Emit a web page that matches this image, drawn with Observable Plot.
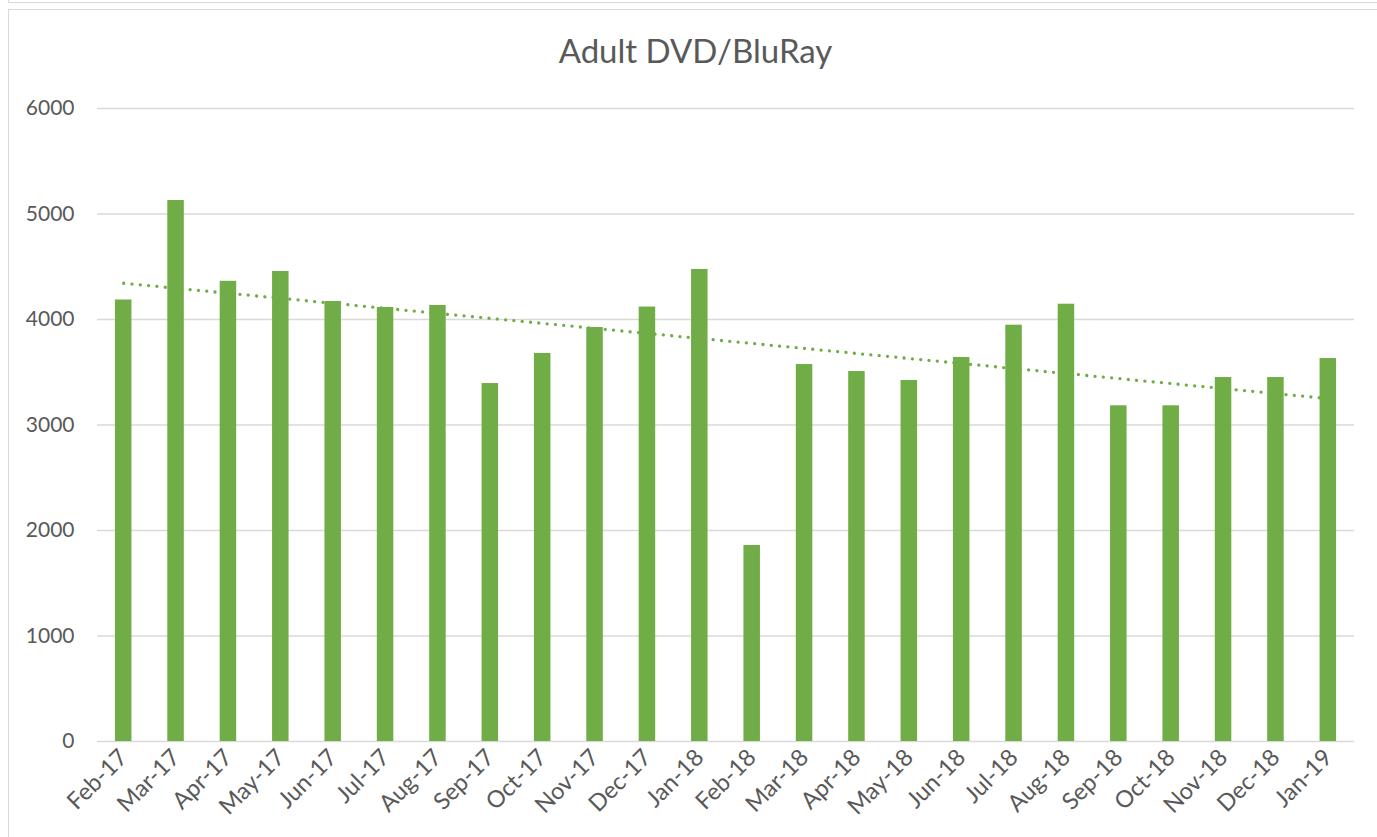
<!DOCTYPE html>
<html>
<head>
<meta charset="utf-8">
<script src="https://cdn.jsdelivr.net/npm/d3@7"></script>
<script src="https://cdn.jsdelivr.net/npm/@observablehq/plot@0.6"></script>
<style>
  html, body { margin: 0; padding: 0; background: #fff; }
  #wrap { position: relative; width: 1377px; height: 837px; overflow: hidden; font-family: Lato, "Open Sans", sans-serif; }
  .frame-prev { position: absolute; left: 8px; top: -10px; width: 1400px; height: 11.5px; border-left: 1.5px solid #d9d9d9; border-bottom: 1.5px solid #d9d9d9; }
  .frame { position: absolute; left: 8px; top: 9px; width: 1400px; height: 900px; border-left: 1.5px solid #d9d9d9; border-top: 1.5px solid #d9d9d9; }
  #title { position: absolute; left: 0; top: 34px; width: 1391px; text-align: center; font-size: 33px; line-height: 33px; color: #595959; }
  #chart { position: absolute; left: 0; top: 80px; }
</style>
</head>
<body>
<div id="wrap">
  <div class="frame-prev"></div>
  <div class="frame"></div>
  <div id="title">Adult DVD/BluRay</div>
  <div id="chart"></div>
</div>
<script>
const months = ["Feb-17","Mar-17","Apr-17","May-17","Jun-17","Jul-17","Aug-17","Sep-17","Oct-17","Nov-17","Dec-17","Jan-18",
                "Feb-18","Mar-18","Apr-18","May-18","Jun-18","Jul-18","Aug-18","Sep-18","Oct-18","Nov-18","Dec-18","Jan-19"];
const values = [4185, 5128, 4362, 4455, 4171, 4114, 4133, 3393, 3678, 3924, 4118, 4474,
                1858, 3573, 3507, 3422, 3640, 3946, 4145, 3182, 3182, 3450, 3450, 3630];
const yTicks = [0, 1000, 2000, 3000, 4000, 5000, 6000];

const data = months.map((m, i) => ({month: m, value: values[i], i}));

// Linear trendline (least squares over category index), as Excel does
const mx = d3.mean(data, d => d.i), my = d3.mean(data, d => d.value);
const slope = d3.sum(data, d => (d.i - mx) * (d.value - my)) / d3.sum(data, d => (d.i - mx) ** 2);
const icpt = my - slope * mx;
const trend = data.map(d => ({month: d.month, value: icpt + slope * d.i}));

const chart = Plot.plot({
  width: 1377,
  height: 757,
  marginLeft: 97,
  marginRight: 23,
  marginTop: 28,
  marginBottom: 96,
  style: {fontFamily: "Lato, 'Open Sans', sans-serif", fontSize: "21px", color: "#595959", background: "transparent"},
  x: {domain: months, paddingInner: 0.685, paddingOuter: 0.3425, round: false, label: null},
  y: {domain: [0, 6000], label: null},
  marks: [
    Plot.gridY(yTicks, {stroke: "#d9d9d9", strokeOpacity: 1, strokeWidth: 1.6}),
    Plot.line(trend, {x: "month", y: "value", stroke: "#70ad47", strokeWidth: 3.3, strokeDasharray: "0.01 8.33", strokeLinecap: "round"}),
    Plot.barY(data, {x: "month", y: "value", fill: "#70ad47"}),
    Plot.axisX({tickSize: 0, tickPadding: 12, tickRotate: -45, label: null, fill: "#595959", fontSize: 23.5}),
    Plot.axisY({ticks: yTicks, tickSize: 0, tickPadding: 23, label: null, fill: "#595959", fontSize: 21, tickFormat: d => String(d)})
  ]
});
document.getElementById("chart").appendChild(chart);
</script>
</body>
</html>
